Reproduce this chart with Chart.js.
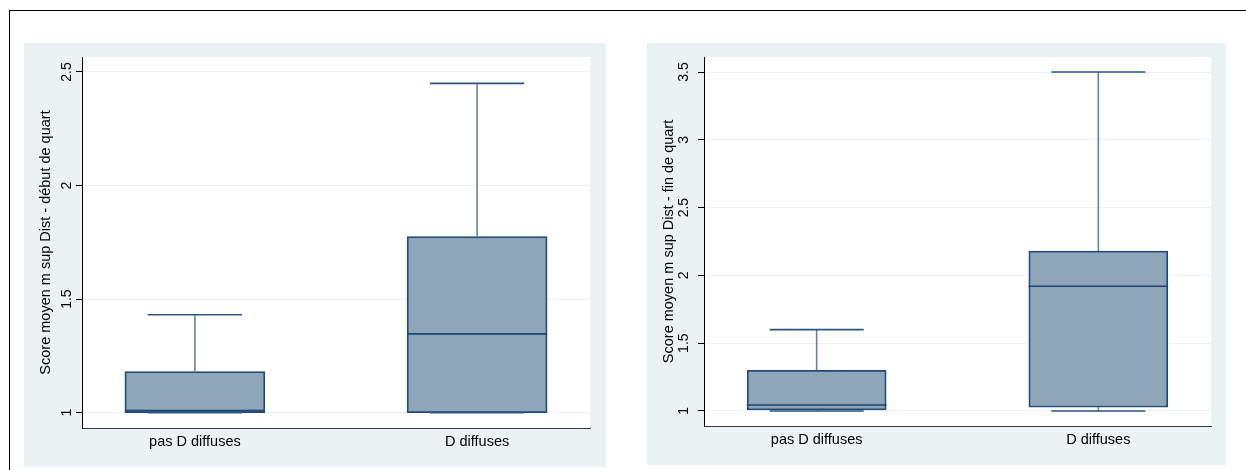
<!DOCTYPE html>
<html>
<head>
<meta charset="utf-8">
<script src="https://cdn.jsdelivr.net/npm/chart.js@4.4.1/dist/chart.umd.min.js"></script>
<style>
  html, body { margin: 0; padding: 0; background: #fff; width: 1246px; height: 470px; overflow: hidden; }
  body { position: relative; font-family: "Liberation Sans", Arial, sans-serif; }
  .frame { position: absolute; left: 9px; top: 10px; width: 1300px; height: 500px; border-top: 1px solid #000; border-left: 1px solid #000; }
  .panel { position: absolute; background: #eaf2f3; }
  .panel canvas { display: block; }
  #p1 { left: 24px; top: 43px; width: 582px; height: 424px; }
  #p2 { left: 647px; top: 43px; width: 579px; height: 422px; }
</style>
</head>
<body>
<div class="frame"></div>
<div class="panel" id="p1"><canvas id="c1" width="582" height="424"></canvas></div>
<div class="panel" id="p2"><canvas id="c2" width="579" height="422"></canvas></div>
<script>
const categories = ['pas D diffuses', 'D diffuses']
const groupX = [1, 2]

// left panel: début de quart
const debutMin = [1, 1]
const debutQ1 = [1, 1]
const debutMedian = [1.009, 1.347]
const debutQ3 = [1.181, 1.775]
const debutMax = [1.431, 2.45]
const debutTicks = [1, 1.5, 2, 2.5]
const debutTickLabels = ['1', '1.5', '2', '2.5']

// right panel: fin de quart
const finMin = [1, 1]
const finQ1 = [1.008, 1.027]
const finMedian = [1.044, 1.92]
const finQ3 = [1.3, 2.18]
const finMax = [1.6, 3.5]
const finTicks = [1, 1.5, 2, 2.5, 3, 3.5]
const finTickLabels = ['1', '1.5', '2', '2.5', '3', '3.5']

const FONT = '"Liberation Sans", Arial, sans-serif'

// white plot region on the light panel
const plotBackground = {
  id: 'plotBackground',
  beforeDraw(chart) {
    const { ctx, chartArea: a } = chart
    ctx.save()
    ctx.fillStyle = '#fff'
    ctx.fillRect(a.left, a.top, a.right - a.left, a.bottom - a.top)
    ctx.restore()
  }
}

// Stata-style y tick labels, turned 90 degrees
const verticalTickLabels = {
  id: 'verticalTickLabels',
  afterDraw(chart, args, o) {
    const scale = chart.scales.y
    const ctx = chart.ctx
    ctx.save()
    ctx.font = '14px ' + FONT
    ctx.fillStyle = '#000'
    ctx.textAlign = 'center'
    ctx.textBaseline = 'middle'
    o.values.forEach((v, i) => {
      ctx.save()
      ctx.translate(scale.right - o.offset, scale.getPixelForValue(v))
      ctx.rotate(-Math.PI / 2)
      ctx.fillText(o.labels[i], 0, 0)
      ctx.restore()
    })
    ctx.restore()
  }
}

// turn [[x1,y1],[x2,y2]] pairs into one broken line
function segments(list) {
  const pts = []
  list.forEach(([a, b]) => {
    pts.push({ x: a[0], y: a[1] }, { x: b[0], y: b[1] }, { x: b[0], y: null })
  })
  return pts
}

function renderBoxChart(canvasId, s, cfg) {
  const capHalf = 0.167
  const boxHalf = 0.248
  const whiskers = []
  const caps = []
  const medians = []
  groupX.forEach((x, i) => {
    whiskers.push([[x, s.q3[i]], [x, s.max[i]]], [[x, s.min[i]], [x, s.q1[i]]])
    caps.push([[x - capHalf, s.max[i]], [x + capHalf, s.max[i]]], [[x - capHalf, s.min[i]], [x + capHalf, s.min[i]]])
    medians.push([[x - boxHalf, s.med[i]], [x + boxHalf, s.med[i]]])
  })

  return new Chart(document.getElementById(canvasId), {
    type: 'bar',
    data: {
      datasets: [
        {
          type: 'line',
          data: segments(medians),
          borderColor: '#1a476f',
          borderWidth: 1.6,
          pointRadius: 0,
          spanGaps: false,
          order: 0
        },
        {
          type: 'line',
          data: segments(caps),
          borderColor: '#2a5683',
          borderWidth: 1.6,
          pointRadius: 0,
          spanGaps: false,
          order: 1
        },
        {
          type: 'line',
          data: segments(whiskers),
          borderColor: '#6684a3',
          borderWidth: 1.6,
          pointRadius: 0,
          spanGaps: false,
          order: 2
        },
        {
          type: 'bar',
          data: groupX.map((x, i) => ({ x: x, y: [s.q1[i], s.q3[i]] })),
          backgroundColor: '#8fa5b9',
          borderColor: '#1f4b77',
          borderWidth: 1.8,
          borderSkipped: false,
          barThickness: cfg.boxPx,
          order: 3
        }
      ]
    },
    options: {
      responsive: false,
      devicePixelRatio: 1,
      animation: false,
      layout: { padding: { left: 0, top: 14, right: cfg.rightPad, bottom: 0 } },
      plugins: {
        legend: { display: false },
        tooltip: { enabled: false },
        verticalTickLabels: { values: cfg.ticks, labels: cfg.tickLabels, offset: cfg.labelOffset }
      },
      scales: {
        x: {
          type: 'linear',
          min: 0.6,
          max: 2.4,
          offset: false,
          afterBuildTicks: sc => { sc.ticks = groupX.map(v => ({ value: v })) },
          afterFit: sc => { sc.height = 39 },
          ticks: {
            callback: v => categories[groupX.indexOf(v)],
            color: '#000',
            font: { family: FONT, size: 14.5 },
            padding: 5,
            autoSkip: false,
            maxRotation: 0,
            minRotation: 0
          },
          grid: { display: false, drawTicks: false },
          border: { display: true, color: '#3a3a3a', width: 1 }
        },
        y: {
          type: 'linear',
          min: cfg.yMin,
          max: cfg.yMax,
          afterBuildTicks: sc => { sc.ticks = cfg.ticks.map(v => ({ value: v })) },
          afterFit: sc => { sc.width = cfg.yWidth },
          ticks: { display: false },
          grid: { color: '#edf3f4', lineWidth: 1, drawTicks: true, tickLength: 6, tickColor: '#000', tickWidth: 1 },
          border: { display: true, color: '#000', width: 1 },
          title: {
            display: true,
            text: cfg.title,
            color: '#000',
            font: { family: FONT, size: 14.5 },
            padding: { top: 13.3, bottom: 0 }
          }
        }
      }
    },
    plugins: [plotBackground, verticalTickLabels]
  })
}

renderBoxChart('c1',
  { min: debutMin, q1: debutQ1, med: debutMedian, q3: debutQ3, max: debutMax },
  { title: 'Score moyen m sup Dist - début de quart', ticks: debutTicks, tickLabels: debutTickLabels,
    yMin: 0.9325, yMax: 2.566, yWidth: 58, rightPad: 16, labelOffset: 15, boxPx: 140 })

renderBoxChart('c2',
  { min: finMin, q1: finQ1, med: finMedian, q3: finQ3, max: finMax },
  { title: 'Score moyen m sup Dist - fin de quart', ticks: finTicks, tickLabels: finTickLabels,
    yMin: 0.889, yMax: 3.611, yWidth: 57, rightPad: 15, labelOffset: 20, boxPx: 139 })
</script>
</body>
</html>
